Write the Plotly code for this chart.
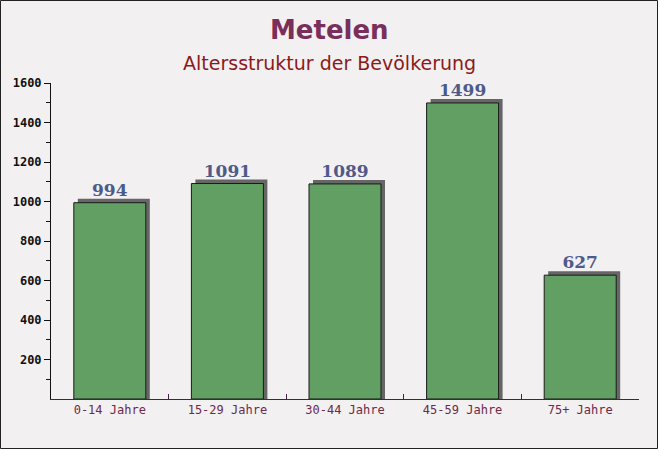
import plotly.graph_objects as go

categories = ["0-14 Jahre", "15-29 Jahre", "30-44 Jahre", "45-59 Jahre", "75+ Jahre"]
values = [994, 1091, 1089, 1499, 627]
y_ticks = [200, 400, 600, 800, 1000, 1200, 1400, 1600]
y_minor = [100, 300, 500, 700, 900, 1100, 1300, 1500]

W, H = 658, 449
L, R, T, B = 51, 19, 83, 50
pw, ph = W - L - R, H - T - B
cat_px = pw / len(categories)
bw = 72 / cat_px
sh_dx = 4 / cat_px
sh_dy = 4 * 1600 / ph

fig = go.Figure()
fig.add_trace(go.Bar(
    x=categories, y=[v + sh_dy for v in values],
    width=bw, offset=-bw / 2 + sh_dx,
    marker=dict(color="#666666", line=dict(width=0)),
    hoverinfo="skip", showlegend=False,
))
fig.add_trace(go.Bar(
    x=categories, y=values,
    width=bw, offset=-bw / 2,
    marker=dict(color="#619f63", line=dict(color="#1a1a1a", width=1)),
    text=[str(v) for v in values], textposition="outside",
    textfont=dict(family="DejaVu Serif", size=17, color="#4d5a8a", weight="bold"),
    cliponaxis=False, showlegend=False,
))

fig.update_layout(
    width=W, height=H,
    margin=dict(l=L, r=R, t=T, b=B),
    paper_bgcolor="#f3f0f1", plot_bgcolor="rgba(0,0,0,0)",
    barmode="overlay",
    showlegend=False,
    xaxis=dict(
        showline=True, linecolor="#4a2040", linewidth=1,
        ticks="inside", tickson="boundaries", ticklen=5, tickcolor="#4a2040",
        tickfont=dict(family="DejaVu Sans Mono", size=12, color="#6b2a4a"),
        showgrid=False, fixedrange=True,
    ),
    yaxis=dict(
        range=[0, 1600], showline=True, linecolor="#111111", linewidth=1,
        tickvals=y_ticks, ticks="outside", ticklen=6, tickcolor="#111111",
        tickfont=dict(family="DejaVu Sans Mono", size=12, color="#111111", weight="bold"),
        minor=dict(tickvals=y_minor, ticks="outside", ticklen=4, tickcolor="#111111"),
        showgrid=False, zeroline=False, fixedrange=True,
    ),
    annotations=[
        dict(text="Metelen", x=(W / 2 - L) / pw, y=1 + (T - 30) / ph, xref="paper", yref="paper",
             showarrow=False, xanchor="center", yanchor="middle",
             font=dict(family="DejaVu Sans", size=26, color="#7a2e5a", weight="bold")),
        dict(text="Altersstruktur der Bevölkerung", x=(W / 2 - L) / pw, y=1 + (T - 63) / ph,
             xref="paper", yref="paper", showarrow=False, xanchor="center", yanchor="middle",
             font=dict(family="DejaVu Sans", size=19, color="#8b1a1a")),
    ],
    shapes=[
        dict(type="rect", xref="paper", yref="paper",
             x0=-L / pw + 0.5 / pw, x1=1 + R / pw - 0.5 / pw,
             y0=-B / ph + 0.5 / ph, y1=1 + T / ph - 0.5 / ph,
             line=dict(color="#222222", width=1), fillcolor="rgba(0,0,0,0)", layer="above"),
    ],
)

fig.write_html("out.html", config={"displayModeBar": False},
               post_script="document.body.style.margin='0';document.body.style.overflow='hidden';")
